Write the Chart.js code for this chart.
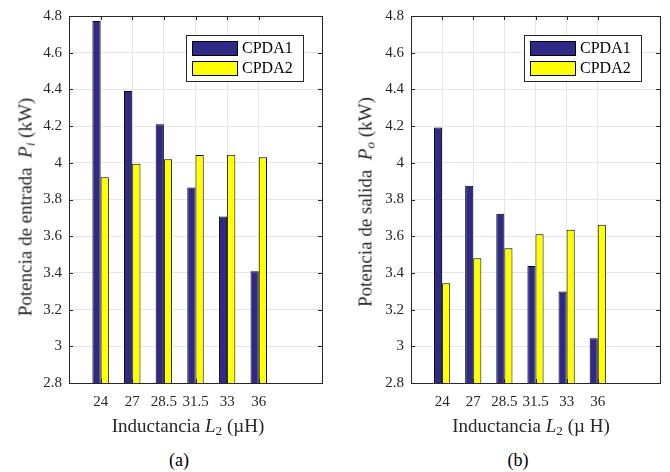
<!DOCTYPE html>
<html><head><meta charset="utf-8">
<script src="https://cdn.jsdelivr.net/npm/chart.js@4/dist/chart.umd.min.js"></script>
<style>
html,body{margin:0;padding:0;background:#fff;}
body{width:670px;height:472px;position:relative;overflow:hidden;font-family:"Liberation Serif","Times New Roman",serif;color:#262626;}
.wrap{position:absolute;top:0;width:335px;height:420px;}
.t{position:absolute;white-space:nowrap;font-size:19px;line-height:1;transform:translate(-50%,-50%);}
.yt{transform:translate(-50%,-50%) rotate(-90deg);}
.t sub{font-size:70%;vertical-align:-0.25em;line-height:0;}
.cap{font-size:18px;color:#000;}
</style></head>
<body>
<div class="wrap" style="left:0"><canvas id="ca" width="335" height="420"></canvas></div>
<div class="wrap" style="left:335px"><canvas id="cb" width="335" height="420"></canvas></div>

<div class="t" style="left:188px;top:425px">Inductancia <i>L</i><sub>2</sub> (µH)</div>
<div class="t" style="left:531px;top:425px">Inductancia <i>L</i><sub>2</sub> (µ H)</div>
<div class="t yt" style="left:25px;top:207px">Potencia de entrada&nbsp; <i>P</i><sub><i>i</i></sub> (kW)</div>
<div class="t yt" style="left:365px;top:202px">Potencia de salida&nbsp; <i>P</i><sub><i>o</i></sub> (kW)</div>
<div class="t cap" style="left:179px;top:460px">(a)</div>
<div class="t cap" style="left:518px;top:460px">(b)</div>

<script>
// ---- data ----
const categories = ['24','27','28.5','31.5','33','36'];
const seriesNames = ['CPDA1','CPDA2'];
const piCPDA1 = [4.773, 4.391, 4.210, 3.866, 3.708, 3.409];
const piCPDA2 = [3.921, 3.995, 4.019, 4.043, 4.044, 4.030];
const poCPDA1 = [4.193, 3.875, 3.723, 3.437, 3.298, 3.044];
const poCPDA2 = [3.343, 3.480, 3.534, 3.610, 3.635, 3.663];
const yTicks = [2.8, 3, 3.2, 3.4, 3.6, 3.8, 4, 4.2, 4.4, 4.6, 4.8];

// ---- styles ----
const seriesColors = ['#2f2a86', '#ffff00'];
const axisColor = '#262626';
const gridColor = '#e6e6e6';
const FONT = "'Liberation Serif', serif";
Chart.defaults.font.family = FONT;

// x axis runs 0..8 with the categories at 1..6
const labels = ['', ...categories, '', ''];
const pad = arr => [null, ...arr, null, null];
const catIdx = new Set(categories.map((c, i) => i + 1));

const boxPlugin = {
  id: 'boxAndTicks',
  afterDraw(chart) {
    const {ctx, chartArea: a, scales} = chart;
    ctx.save();
    ctx.strokeStyle = axisColor;
    ctx.lineWidth = 1;
    ctx.strokeRect(Math.round(a.left) + 0.5, Math.round(a.top) + 0.5,
                   Math.round(a.right - a.left), Math.round(a.bottom - a.top));
    const tl = 4;
    ctx.beginPath();
    scales.y.ticks.forEach(t => {
      const y = Math.round(scales.y.getPixelForValue(t.value)) + 0.5;
      ctx.moveTo(a.left, y); ctx.lineTo(a.left + tl, y);
      ctx.moveTo(a.right, y); ctx.lineTo(a.right - tl, y);
    });
    catIdx.forEach(i => {
      const x = Math.round(scales.x.getPixelForValue(i)) + 0.5;
      ctx.moveTo(x, a.bottom); ctx.lineTo(x, a.bottom - tl);
      ctx.moveTo(x, a.top); ctx.lineTo(x, a.top + tl);
    });
    ctx.stroke();
    ctx.restore();
  }
};

const legendPlugin = {
  id: 'insideLegend',
  afterDraw(chart) {
    const {ctx, chartArea: a} = chart;
    const w = 117, h = 46;
    const L = Math.round(a.right - 19 - w), T = Math.round(a.top + 19);
    ctx.save();
    ctx.fillStyle = '#fff';
    ctx.fillRect(L, T, w, h);
    ctx.strokeStyle = axisColor;
    ctx.lineWidth = 1;
    ctx.strokeRect(L + 0.5, T + 0.5, w, h);
    ctx.font = "16px 'Liberation Serif', serif";
    ctx.textBaseline = 'middle';
    ctx.textAlign = 'left';
    chart.data.datasets.forEach((ds, i) => {
      const sy = T + 6 + i * 20;
      ctx.fillStyle = ds.backgroundColor;
      ctx.fillRect(L + 6, sy, 45, 14);
      ctx.strokeStyle = '#000';
      ctx.strokeRect(L + 6.5, sy + 0.5, 45, 14);
      ctx.fillStyle = '#000';
      ctx.fillText(ds.label, L + 56, sy + 8);
    });
    ctx.restore();
  }
};

function makeChart(id, s1, s2, yAxisWidth, padRight) {
  return new Chart(document.getElementById(id), {
    type: 'bar',
    data: {
      labels: labels,
      datasets: [
        {label: seriesNames[0], data: pad(s1), backgroundColor: seriesColors[0], borderColor: '#000', borderWidth: 1},
        {label: seriesNames[1], data: pad(s2), backgroundColor: seriesColors[1], borderColor: '#000', borderWidth: 1}
      ]
    },
    options: {
      responsive: false,
      animation: false,
      devicePixelRatio: 1,
      layout: {padding: {left: 0, right: padRight, top: 16, bottom: 0}},
      datasets: {bar: {categoryPercentage: 0.52, barPercentage: 1.0}},
      plugins: {legend: {display: false}, tooltip: {enabled: false}, title: {display: false}},
      scales: {
        x: {
          type: 'category',
          offset: false,
          grid: {
            offset: false,
            drawTicks: false,
            color: ctx => catIdx.has(ctx.index) ? gridColor : 'rgba(0,0,0,0)',
            lineWidth: 1
          },
          border: {display: true, color: axisColor, width: 1},
          ticks: {
            autoSkip: false, maxRotation: 0, padding: 10,
            color: axisColor, font: {family: FONT, size: 15}
          },
          afterFit: s => { s.height = 37; }
        },
        y: {
          min: 2.8, max: 4.8,
          afterBuildTicks: s => { s.ticks = yTicks.map(v => ({value: v})); },
          grid: {drawTicks: false, color: gridColor, lineWidth: 1},
          border: {display: true, color: axisColor, width: 1},
          ticks: {
            padding: 7, color: axisColor, font: {family: FONT, size: 15},
            callback: v => String(v)
          },
          afterFit: s => { s.width = yAxisWidth; }
        }
      }
    },
    plugins: [boxPlugin, legendPlugin]
  });
}

function build() {
  makeChart('ca', piCPDA1, piCPDA2, 69, 13);
  makeChart('cb', poCPDA1, poCPDA2, 76, 8);
}
Promise.all([
  document.fonts.load("15px 'Liberation Serif'"),
  document.fonts.load("16px 'Liberation Serif'")
]).then(build, build);
</script>
</body></html>
